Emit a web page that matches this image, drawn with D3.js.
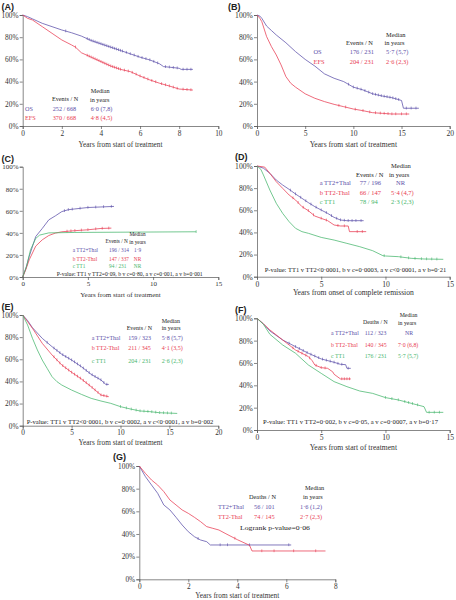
<!DOCTYPE html>
<html><head><meta charset="utf-8">
<script src="https://cdn.jsdelivr.net/npm/d3@7"></script>
<style>body{margin:0;background:#fff}svg text{font-family:"Liberation Serif","Times New Roman",serif}</style>
</head><body>
<svg id="c" width="456" height="600"></svg>
<script>
const BLUE="#5a4ea8", RED="#e83a50", GREEN="#45b56c";
// ---------- data ----------
const yTickVals=[0,20,40,60,80,100];
const A_xticks=[0,2,4,6,8,10], B_xticks=[0,5,10,15,20], C_xticks=[0,5,10,15], D_xticks=[0,5,10,15], E_xticks=[0,5,10,15,20], F_xticks=[0,5,10,15], G_xticks=[0,2,4,6,8];

const A_OS=[[0,100],[0.25,98.5],[0.5,96.5],[1,92.5],[1.5,89.5],[2,86.5],[2.5,84],[3,81],[3.5,77],[4,74],[4.5,71],[5,68],[5.5,65],[6,62],[6.5,59.5],[7,56],[7.2,53.5],[7.5,53],[8,52],[8.1,51],[8.7,51]];
const A_EFS=[[0,100],[0.25,97],[0.5,95.5],[1,89.5],[1.5,83.5],[2,77.5],[2.5,73],[2.7,71],[3,66],[3.5,62],[4,58],[4.5,54],[5,51],[5.5,49],[6,45],[6.5,41.5],[7,38.5],[7.5,36],[8,33.3],[8.7,32.4]];
const A_OS_cens=[2.2,3.3,3.4,3.5,3.6,3.7,3.8,3.9,4.0,4.1,4.2,4.3,4.4,4.5,4.6,4.7,4.8,4.9,5.0,5.1,5.3,5.5,5.7,5.9,6.1,6.3,6.5,6.7,6.9,7.3,7.5,7.7,7.9,8.2,8.4,8.6];
const A_EFS_cens=[2.7,3.3,3.4,3.5,3.6,3.7,3.8,3.9,4.0,4.1,4.2,4.3,4.4,4.5,4.6,4.7,4.8,4.9,5.0,5.2,5.4,5.6,5.8,6.0,6.2,6.4,6.6,6.8,7.1,7.3,7.5,7.7,7.9,8.2,8.4,8.6];

const B_OS=[[0,100],[0.3,99],[0.5,97],[1,90],[1.5,86],[2,82],[3,75],[4,67],[5,60],[6,54],[7,47],[8,43],[9,40],[10,35],[11,32.5],[12,29],[13,27],[14,25.5],[15,23],[15.2,16],[16.8,16]];
const B_EFS=[[0,100],[0.3,97],[0.5,94],[1,80.5],[1.5,71.5],[2,64],[2.5,55],[3,44.5],[3.5,38.5],[4,35],[5,29],[6,25],[7,22],[8,19.5],[9,17.4],[10,15.3],[11,13.8],[12,12],[13,11.4],[14,10.8],[15.8,10.8]];
const B_OS_cens=[9.5,10,10.4,10.8,11.2,11.6,12,12.3,12.6,12.9,13.2,13.5,13.8,14.1,14.4,14.7,15.5,16,16.5];
const B_EFS_cens=[8.5,9.2,10.2,11,11.7,12.3,12.8,13.2,13.6,14,14.4,15,15.5];

const C_a=[[0,0],[0.25,8],[0.5,18.7],[1,36.7],[1.5,44],[2,51.8],[2.5,55.4],[3,59.3],[3.5,61],[4,61.7],[5,63],[6,63.5],[7,64]];
const C_b=[[0,0],[0.25,7],[0.5,15.6],[1,28],[1.5,33.7],[2,37.6],[2.5,39.8],[3,41],[4,42],[5,42.8],[6,44],[6.8,44.3]];
const C_c=[[0,0],[0.3,10],[0.6,24.7],[1,35],[1.3,38],[2,40],[4,40.4],[13.3,41]];
const C_a_cens=[3.2,3.5,3.8,4.4,5,5.6,6.2,6.8];
const C_b_cens=[3.4,3.7,4,4.5,5,5.6,6.1,6.6];
const C_c_cens=[13.3];

const D_a=[[0,100],[0.5,98],[1,93.4],[1.5,87.3],[2,82.8],[2.5,78.9],[3,74.7],[3.5,70.8],[4,66.9],[4.5,63.3],[5,60.2],[5.5,57.2],[6,53.6],[6.5,51.2],[7,50.6],[8.3,50.6]];
const D_b=[[0,100],[0.6,99],[1,93.4],[1.5,85.8],[2,79.8],[2.5,73.8],[3,69.3],[3.5,63.3],[4,59.6],[4.5,54.8],[5,52.7],[5.5,50.6],[6,46.7],[6.5,45.8],[7.1,45.8],[7.2,40.7],[8.5,40.7]];
const D_c=[[0,100],[0.3,97],[0.5,91.9],[1,78.3],[1.5,66.3],[2,57.2],[2.5,49.7],[3,43.7],[3.5,40.7],[4,39.2],[5,35.5],[6,33.1],[7,30.1],[8,27.1],[9,23.5],[9.8,19],[10,18.7],[11,18.1],[12,16.6],[13,16],[14.5,15.7]];
const D_a_cens=[2.6,3,3.4,3.8,4.2,4.6,5,5.4,5.8,6.2,6.5,6.8,7.1,7.4,7.7,8.1];
const D_b_cens=[2.8,3.2,3.6,4,4.4,5,5.4,6.3,6.8,7.8,8.2];
const D_c_cens=[9.9,11.2,11.8,12.3,12.8,13.2,13.6,14];

const E_a=[[0,100],[0.5,95],[1,88.5],[2,78.9],[3,71.4],[4,64.5],[5,59.3],[6,53.3],[7,46.4],[8,41.3],[8.5,37.3],[8.8,37.3]];
const E_b=[[0,100],[0.5,94],[1,88],[2,74.4],[3,63.9],[4,54.8],[5,48.2],[6,42.2],[7,35.2],[8,27.7],[8.8,26.2]];
const E_c=[[0,100],[0.5,91],[1,78.9],[1.5,68.4],[2,59.3],[2.5,51.8],[3,44.3],[3.5,39.8],[4,36.7],[5,32.2],[6,28.3],[7,24.7],[8,22.3],[9,20.2],[10,17.2],[11,15.1],[12,13.3],[13,12.7],[14,11.7],[15.8,11.1]];
const E_a_cens=[2.5,3.2,3.5,3.8,4.1,4.4,4.7,5,5.3,5.6,5.9,6.2,6.5,6.8,7.1,7.4,7.7,8,8.3,8.6];
const E_b_cens=[3.2,3.5,3.8,4.1,4.4,4.7,5,5.3,5.6,5.9,6.2,6.5,6.8,7.1,7.4,7.7,8,8.3,8.6];
const E_c_cens=[10,10.6,11.1,11.6,12,12.4,12.8,13.2,13.6,14,14.4,14.8,15.2];

const F_a=[[0,100],[0.5,95],[1,88.7],[2,80.6],[3,74.6],[4,68.7],[5,63.6],[6,60.6],[6.5,58.8],[6.9,58.5],[7,55.2],[7.3,55.2]];
const F_b=[[0,100],[0.5,95],[1,89.6],[2,80.6],[3,71.6],[4,65.7],[4.3,62],[4.5,58.2],[5,55.8],[5.5,55.2],[5.9,52],[6,49.9],[6.5,45.7],[7.3,45.7]];
const F_c=[[0,100],[0.5,94.6],[1,85.7],[2,76.1],[3,68.7],[4,58.2],[5,50.7],[6,43.3],[7,38.8],[8,34.9],[9,32.8],[10,29],[11,26.9],[12,23.9],[13,20.9],[13.2,15.8],[14.5,15.8]];
const F_a_cens=[2.5,3,3.3,3.6,3.9,4.2,4.5,4.8,5.1,5.4,5.7,6,6.3,6.6,7.1];
const F_b_cens=[2.8,3.2,3.5,3.8,4.1,4.6,5,5.3,6.6,6.8,7,7.2];
const F_c_cens=[10,10.5,11,11.5,11.8,12.1,12.5,13.4,13.8,14.2];

const G_a=[[0,100],[0.25,90.6],[0.5,83.2],[0.75,75.9],[1,65.6],[1.25,61.2],[1.5,54.7],[1.75,47.9],[2,42],[2.25,37.6],[2.5,34.7],[2.75,33.2],[2.9,30.3],[6.2,30.3]];
const G_b=[[0,100],[0.25,93.5],[0.5,87.6],[0.75,83.2],[1,77.4],[1.25,70],[1.5,65.6],[1.75,61.2],[2,58.2],[2.25,54.7],[2.5,50.9],[2.75,46.5],[3,45],[3.25,43.5],[3.5,40.6],[4,35],[4.5,30],[4.6,25],[7.6,25]];
const G_a_cens=[2.4,3.3,3.6,4.5,6.1];
const G_b_cens=[3.9,5,5.5,6.3,7.2];

// legend texts
const A_head=["Events / N","Median","in years"], A_lab=["OS","EFS"], A_cnt=["252 / 668","370 / 668"], A_med=["6·0  (7,8)","4·8  (4,5)"];
const B_head=["Events / N","Median","in years"], B_lab=["OS","EFS"], B_cnt=["176 / 231","204 / 231"], B_med=["5·7  (5,7)","2·6  (2,3)"];
const C_head=["Events / N","Median","in years"], C_lab=["a TT2+Thal","b TT2-Thal","c TT1"], C_cnt=["196 / 314","147 / 337","94 / 231"], C_med=["1·9","NR","NR"];
const C_p="P-value: TT1 v TT2=0·09, b v c=0·80, a v c=0·001, a v b=0·001";
const D_head=["Events / N","Median","in years"], D_lab=["a TT2+Thal","b TT2-Thal","c TT1"], D_cnt=["77 / 196","66 / 147","78 / 94"], D_med=["NR","5·4  (4,7)","2·3  (2,3)"];
const D_p="P-value: TT1 v TT2<0·0001, b v c=0·0003, a v c<0·0001, a v b=0·21";
const E_head=["Events / N","Median","in years"], E_lab=["a TT2+Thal","b TT2-Thal","c TT1"], E_cnt=["159 / 323","211 / 345","204 / 231"], E_med=["5·8  (5,7)","4·1  (3,5)","2·6  (2,3)"];
const E_p="P-value: TT1 v TT2<0·0001, b v c=0·0002, a v c<0·0001, a v b=0·002";
const F_head=["Deaths / N","Median","in years"], F_lab=["a TT2+Thal","b TT2-Thal","c TT1"], F_cnt=["112 / 323","140 / 345","176 / 231"], F_med=["NR","7·0  (6,8)","5·7  (5,7)"];
const F_p="P-value: TT1 v TT2=0·002, b v c=0·05, a v c=0·0007, a v b=0·17";
const G_head=["Deaths / N","Median","in years"], G_lab=["TT2+Thal","TT2-Thal"], G_cnt=["56 / 101","74 / 145"], G_med=["1·6  (1,2)","2·7  (2,3)"];
const G_p="Logrank p-value=0·06";
const xTitles=["Years from start of treatment","Years from onset of complete remission"];

// ---------- drawing ----------
const svg=d3.select("#c");
function interp(data,t){
  for(let i=1;i<data.length;i++){
    if(t<=data[i][0]){const a=data[i-1],b=data[i];const f=(t-a[0])/((b[0]-a[0])||1);return a[1]+f*(b[1]-a[1]);}
  }
  return data[data.length-1][1];
}
function panel(c){
  const g=svg.append("g");
  const x=d3.scaleLinear().domain([0,c.xmax]).range([c.x0,c.x1]);
  const y=d3.scaleLinear().domain([0,100]).range([c.yb,c.yt]);
  const ax=g.append("g").attr("transform",`translate(0,${c.yb})`).call(d3.axisBottom(x).tickValues(c.xticks).tickSize(3).tickPadding(1.5).tickFormat(d3.format("d")));
  const ay=g.append("g").attr("transform",`translate(${c.x0},0)`).call(d3.axisLeft(y).tickValues(yTickVals).tickSize(3).tickPadding(1.2).tickFormat(d=>d+"%"));
  [ax,ay].forEach(a=>{a.selectAll("path,line").attr("stroke","#555").attr("stroke-width",0.7);
    a.selectAll("text").attr("font-size",c.tfs).attr("fill","#333").attr("font-family","Liberation Serif");});
  g.append("text").attr("x",(c.x0+c.x1)/2).attr("y",c.ty).attr("text-anchor","middle").attr("font-size",c.tfs).attr("fill","#333").text(c.title);
  g.append("text").attr("x",c.lx).attr("y",c.ly).attr("font-size",9).attr("font-weight","bold").style("font-family","Liberation Sans, Arial, sans-serif").attr("fill","#222").text(c.letter);
  const line=d3.line().x(d=>x(d[0])).y(d=>y(d[1]));
  c.series.forEach(s=>{
    g.append("path").attr("d",line(s.data)).attr("fill","none").attr("stroke",s.color).attr("stroke-width",0.75);
    g.selectAll(null).data(s.cens).enter().append("line")
      .attr("x1",d=>x(d)).attr("x2",d=>x(d)).attr("y1",d=>y(interp(s.data,d))-1.6).attr("y2",d=>y(interp(s.data,d))+1.2)
      .attr("stroke",s.color).attr("stroke-width",0.6);
  });
  const L=c.leg;
  const t=(txt,xx,yy,col,anchor)=>g.append("text").attr("x",xx).attr("y",yy).attr("font-size",L.fs).attr("fill",col).attr("text-anchor",anchor||"start").text(txt);
  L.head.forEach((h,i)=>t(h,L.hx[i],L.hy[i],"#222",(L.ha||[])[i]));
  L.lab.forEach((lb,i)=>{
    const col=c.series[i].color;
    t(lb,L.lx,L.ry[i],col);
    t(L.cnt[i],L.cx,L.ry[i],col);
    const m=L.med[i];
    if(m.length<4) t(m,L.mc,L.ry[i],col,"middle"); else t(m,L.mx,L.ry[i],col);
  });
  if(c.p){
    g.append("text").attr("x",c.p.x).attr("y",c.p.y).attr("font-size",c.p.fs).attr("fill","#222")
      .attr("textLength",c.p.w).attr("lengthAdjust","spacingAndGlyphs").text(c.p.txt);
  }
}

panel({letter:"(A)",lx:1.5,ly:9.5,x0:22.7,x1:218.3,yt:15,yb:126,xmax:10,xticks:A_xticks,title:xTitles[0],tfs:7.3,ty:146.5,
  series:[{data:A_OS,cens:A_OS_cens,color:BLUE},{data:A_EFS,cens:A_EFS_cens,color:RED}],
  leg:{fs:6.2,head:A_head,lab:A_lab,cnt:A_cnt,med:A_med,hx:[52,90.7,90],hy:[101.2,93,101.5],lx:25,cx:52.7,mx:90.7,mc:99,ry:[110.8,119.8]}});
panel({letter:"(B)",lx:228,ly:9.5,x0:257,x1:449.7,yt:15,yb:126,xmax:20,xticks:B_xticks,title:xTitles[0],tfs:7.6,ty:146.5,
  series:[{data:B_OS,cens:B_OS_cens,color:BLUE},{data:B_EFS,cens:B_EFS_cens,color:RED}],
  leg:{fs:6.4,head:B_head,lab:B_lab,cnt:B_cnt,med:B_med,hx:[346,386,384.5],hy:[45.2,37.2,45.2],lx:313.5,cx:349.7,mx:386,mc:395,ry:[54.2,63.5]}});
panel({letter:"(C)",lx:1.5,ly:162.3,x0:22.7,x1:218.3,yt:166.7,yb:277,xmax:15,xticks:C_xticks,title:xTitles[0],tfs:7,ty:296.8,
  series:[{data:C_a,cens:C_a_cens,color:BLUE},{data:C_b,cens:C_b_cens,color:RED},{data:C_c,cens:C_c_cens,color:GREEN}],
  leg:{fs:5.3,head:C_head,lab:C_lab,cnt:C_cnt,med:C_med,hx:[105.5,137.5,137.5],ha:["start","middle","middle"],hy:[243.3,236.3,243.5],lx:72.7,cx:109,mx:133,mc:137.5,ry:[251.6,260.6,268.4]},
  p:{txt:C_p,x:56.7,y:276,w:146,fs:5.6}});
panel({letter:"(D)",lx:235,ly:160.2,x0:257,x1:449.7,yt:166,yb:276.7,xmax:15,xticks:D_xticks,title:xTitles[1],tfs:7.6,ty:294.8,
  series:[{data:D_a,cens:D_a_cens,color:BLUE},{data:D_b,cens:D_b_cens,color:RED},{data:D_c,cens:D_c_cens,color:GREEN}],
  leg:{fs:6.5,head:D_head,lab:D_lab,cnt:D_cnt,med:D_med,hx:[356,391,389],hy:[176.8,167.8,176.8],lx:319.7,cx:359.7,mx:391,mc:400.5,ry:[185.3,195.3,204.3]},
  p:{txt:D_p,x:264.7,y:272.3,w:181.6,fs:6.2}});
panel({letter:"(E)",lx:1.5,ly:309.6,x0:22.7,x1:218.3,yt:315,yb:425.7,xmax:20,xticks:E_xticks,title:xTitles[0],tfs:7.3,ty:445.2,
  series:[{data:E_a,cens:E_a_cens,color:BLUE},{data:E_b,cens:E_b_cens,color:RED},{data:E_c,cens:E_c_cens,color:GREEN}],
  leg:{fs:6,head:E_head,lab:E_lab,cnt:E_cnt,med:E_med,hx:[126.7,161.7,161.7],hy:[329.8,322.5,329.8],lx:91.7,cx:128.3,mx:161.7,mc:170,ry:[340.3,350.3,363.3]},
  p:{txt:E_p,x:26.7,y:424,w:186.6,fs:6.2}});
panel({letter:"(F)",lx:235,ly:312.6,x0:257,x1:449.7,yt:318.3,yb:430,xmax:15,xticks:F_xticks,title:xTitles[0],tfs:7.6,ty:449.5,
  series:[{data:F_a,cens:F_a_cens,color:BLUE},{data:F_b,cens:F_b_cens,color:RED},{data:F_c,cens:F_c_cens,color:GREEN}],
  leg:{fs:5.8,head:F_head,lab:F_lab,cnt:F_cnt,med:F_med,hx:[363,399.7,398],hy:[323.5,316.8,325],lx:331,cx:364.7,mx:398,mc:409,ry:[335.2,346.8,358.2]},
  p:{txt:F_p,x:263,y:424,w:175,fs:6}});
panel({letter:"(G)",lx:113,ly:460.2,x0:139.3,x1:335.3,yt:466,yb:579.3,xmax:8,xticks:G_xticks,title:xTitles[0],tfs:7.3,ty:597.8,
  series:[{data:G_a,cens:G_a_cens,color:BLUE},{data:G_b,cens:G_b_cens,color:RED}],
  leg:{fs:6.3,head:G_head,lab:G_lab,cnt:G_cnt,med:G_med,hx:[249,305,303],hy:[498.5,489.5,498.5],lx:218,cx:254,mx:300,mc:309,ry:[508.5,519]},
  p:{txt:G_p,x:240,y:530,w:70,fs:6.5}});
</script>
</body></html>
